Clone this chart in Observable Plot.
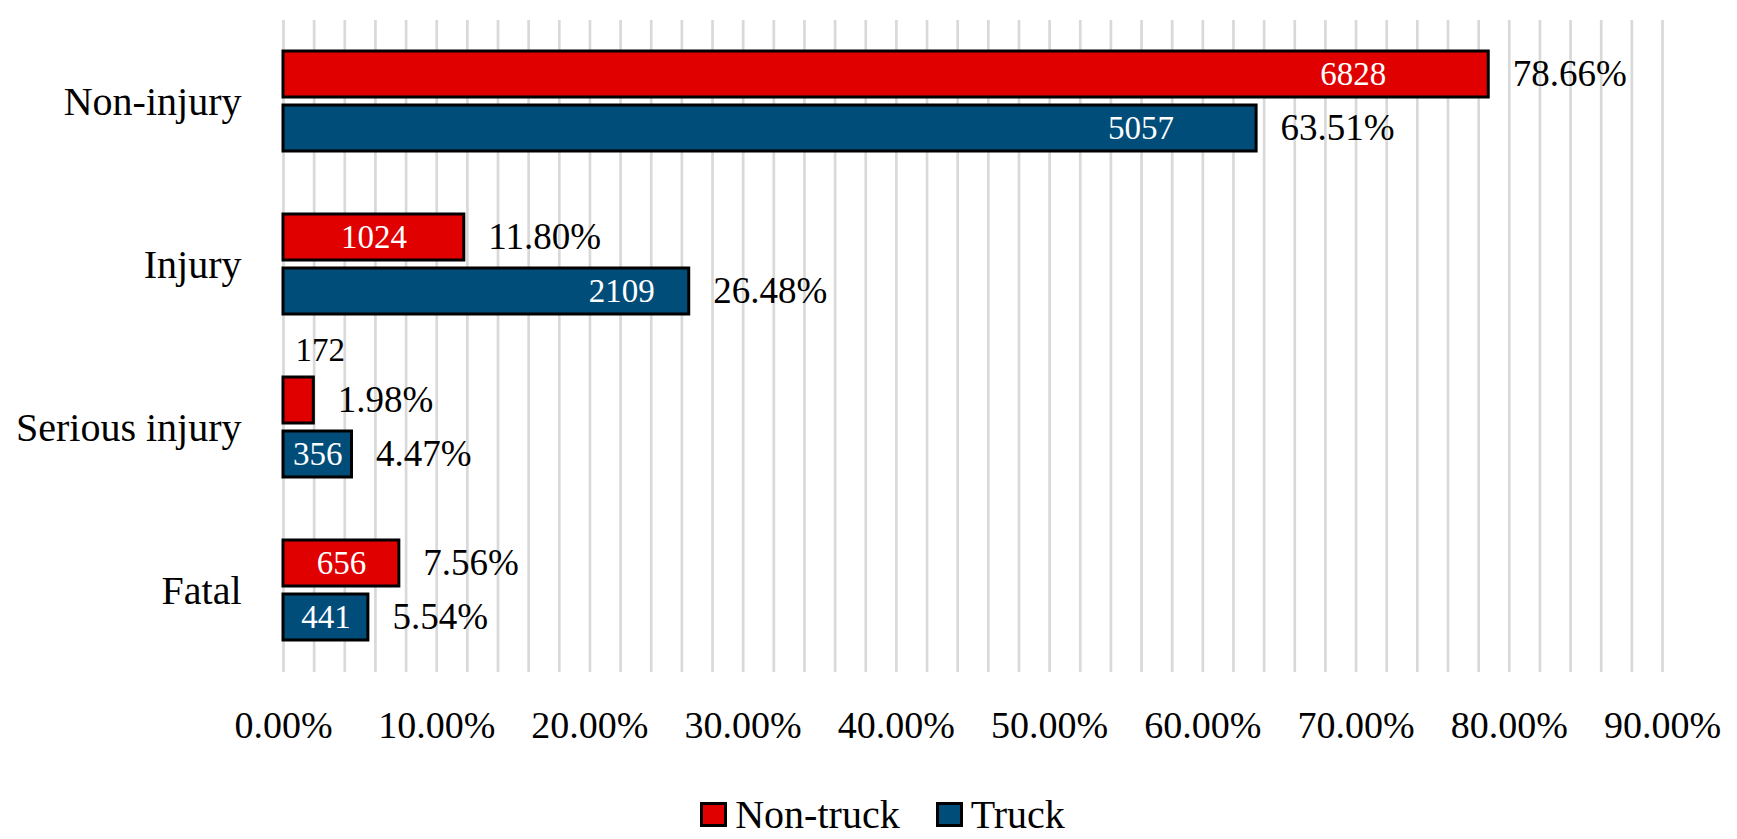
<!DOCTYPE html>
<html>
<head>
<meta charset="utf-8">
<script src="https://cdn.jsdelivr.net/npm/d3@7"></script>
<script src="https://cdn.jsdelivr.net/npm/@observablehq/plot@0.6"></script>
<style>
  html, body { margin: 0; padding: 0; background: #fff; }
  #wrap { position: relative; width: 1737px; height: 839px; font-family: "Liberation Serif", serif; }
  #wrap svg { display: block; font-family: "Liberation Serif", serif !important; }
  #wrap svg text { font-family: "Liberation Serif", serif !important; }
  #legend { position: absolute; top: 790px; left: 0; width: 1737px; height: 48px; box-sizing: border-box; padding-left: 28px;
            display: flex; justify-content: center; align-items: center; font-size: 40px; color: #000; }
  .item { display: flex; align-items: center; }
  .sw { width: 21px; height: 19px; border: 3px solid #000; margin-right: 8px; }
  .item + .item { margin-left: 36px; }
</style>
</head>
<body>
<div id="wrap"><div id="chart"></div><div id="legend"></div></div>
<script>
const categories = ["Non-injury", "Injury", "Serious injury", "Fatal"];
const groups = ["Non-truck", "Truck"];
const nonTruckCounts = [6828, 1024, 172, 656];
const truckCounts = [5057, 2109, 356, 441];
const nonTruckPct = [78.66, 11.80, 1.98, 7.56];
const truckPct = [63.51, 26.48, 4.47, 5.54];
const xTicks = [0, 10, 20, 30, 40, 50, 60, 70, 80, 90];
const colors = ["#E00000", "#004D7A"];

const rows = [];
categories.forEach((c, i) => {
  rows.push({category: c, group: groups[0], count: nonTruckCounts[i], pct: nonTruckPct[i]});
  rows.push({category: c, group: groups[1], count: truckCounts[i], pct: truckPct[i]});
});

const gridValues = d3.range(0, 90.001, 2);
const pctFmt = d => d.toFixed(2) + "%";
const cntFmt = d => String(d.count);

const chart = Plot.plot({
  width: 1737,
  height: 762,
  marginLeft: 283,
  marginRight: 75,
  marginTop: 20,
  marginBottom: 90,
  style: {fontFamily: "Liberation Serif, serif", background: "white", color: "black"},
  x: {domain: [0, 90], axis: null},
  y: {domain: groups, paddingInner: 0.145, paddingOuter: 0.555, axis: null},
  fy: {domain: categories, padding: 0, axis: null},
  color: {domain: groups, range: colors},
  marks: [
    Plot.ruleX(gridValues, {stroke: "#D9D9D9", strokeWidth: 2.7}),
    Plot.barX(rows, {x: "pct", y: "group", fy: "category", fill: "group", stroke: "black", strokeWidth: 3}),
    Plot.text(rows, {x: "pct", y: "group", fy: "category", text: d => pctFmt(d.pct),
      textAnchor: "start", dx: 24, fontSize: 37, fill: "black"}),
    Plot.text(rows.filter(d => d.pct >= 20), {x: d => d.pct * 0.915, y: "group", fy: "category",
      text: cntFmt, textAnchor: "end", fontSize: 33, fill: "white"}),
    Plot.text(rows.filter(d => d.pct >= 3 && d.pct < 20), {x: d => d.pct / 2, y: "group", fy: "category",
      text: cntFmt, textAnchor: "middle", fontSize: 33, fill: "white"}),
    Plot.text(rows.filter(d => d.pct < 3), {x: 0, y: "group", fy: "category",
      text: cntFmt, textAnchor: "start", dx: 12, dy: -50, fontSize: 33, fill: "black"}),
    Plot.axisX({ticks: xTicks, tickFormat: pctFmt, tickSize: 0, tickPadding: 39, fontSize: 38, label: null}),
    Plot.axisFy({anchor: "left", tickSize: 0, tickPadding: 42, fontSize: 40, label: null})
  ]
});
document.getElementById("chart").appendChild(chart);

const legend = document.getElementById("legend");
groups.forEach((g, i) => {
  const item = document.createElement("div");
  item.className = "item";
  const sw = document.createElement("span");
  sw.className = "sw";
  sw.style.background = colors[i];
  const label = document.createElement("span");
  label.textContent = g;
  item.appendChild(sw);
  item.appendChild(label);
  legend.appendChild(item);
});
</script>
</body>
</html>
